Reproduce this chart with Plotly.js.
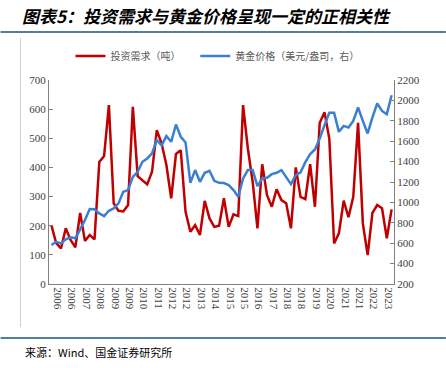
<!DOCTYPE html>
<html>
<head>
<meta charset="utf-8">
<script src="https://cdn.plot.ly/plotly-3.0.1.min.js"></script>
<style>html,body{margin:0;padding:0;background:#fff;}#chart{width:446px;height:368px;}</style>
</head>
<body>
<div id="chart"></div>
<script>
// Quarterly categories 2006Q1 .. 2023Q4
const years = [2006,2007,2008,2009,2010,2011,2012,2013,2014,2015,2016,2017,2018,2019,2020,2021,2022,2023];
const quarters = [];
years.forEach(y => { for (let q = 1; q <= 4; q++) quarters.push(y + 'Q' + q); });

// Investment demand (tonnes), left axis
const investDemand = [
  202,140,122,191, 151,126,244,148, 168,153,419,439, 614,277,251,249,
  271,608,370,357, 342,385,528,482, 408,294,446,459, 248,179,202,168,
  285,225,196,200, 294,196,239,233, 614,465,351,191, 411,305,265,325,
  288,277,191,400, 299,291,411,265, 553,589,499,139, 174,286,229,299,
  553,208,99,244, 271,260,157,256
];

// Gold price (USD/oz), right axis
const goldPrice = [
  582,614,598,638, 657,648,736,827, 935,932,892,866, 918,941,990,1104,
  1121,1251,1300,1398, 1431,1480,1610,1560, 1650,1594,1764,1643, 1588,1192,1317,1202,
  1290,1310,1212,1192, 1190,1170,1121,1055, 1235,1317,1317,1160, 1235,1241,1277,1290,
  1317,1245,1179,1268, 1295,1395,1473,1519, 1627,1757,1878,1878, 1692,1750,1735,1799,
  1930,1799,1676,1833, 1970,1897,1865,2051
];

// X tick labels (one per group of 3 quarters)
const tickLabels = ['2006','2006','2007','2008','2009','2009','2010','2011','2012','2012','2013','2014',
                    '2015','2015','2016','2017','2018','2018','2019','2020','2021','2021','2022','2023'];

const xIdx = quarters.map((_, i) => i);
const labelPos = tickLabels.map((_, k) => 3 * k + 1.3);
const tickPos = [];
for (let k = 1; k < tickLabels.length; k++) tickPos.push(3 * k - 0.5);

const axisFont = {family: '"Liberation Serif", "Times New Roman", serif', size: 11, color: '#404040'};
const cjk = '"Noto Sans CJK SC", sans-serif';

const traces = [
  {x: xIdx, y: investDemand, type: 'scatter', mode: 'lines', name: '投资需求（吨）',
   line: {color: '#C00000', width: 2.5}, xaxis: 'x', yaxis: 'y', legend: 'legend'},
  {x: xIdx, y: goldPrice, type: 'scatter', mode: 'lines', name: '黄金价格（美元/盎司，右）',
   line: {color: '#3A7FD2', width: 2.5}, xaxis: 'x', yaxis: 'y2', legend: 'legend2'}
];

const W = 345.5, H = 204; // plot size
const px = v => (v - 48.5) / W;
const py = v => (284 - v) / H;

const legendFont = {family: cjk, size: 10, color: '#595959'};

const layout = {
  width: 446, height: 368,
  margin: {l: 48.5, r: 52, t: 80, b: 84},
  paper_bgcolor: '#ffffff', plot_bgcolor: '#ffffff',
  showlegend: true,
  title: {text: '<b><i>图表5：投资需求与黄金价格呈现一定的正相关性</i></b>',
          font: {family: cjk, size: 17, color: '#000'},
          xref: 'container', yref: 'container', x: 22/446, xanchor: 'left', y: 1 - 17.5/368, yanchor: 'middle'},
  legend: {orientation: 'h', x: px(70), xanchor: 'left', y: py(56), yanchor: 'middle',
           font: legendFont, bgcolor: 'rgba(0,0,0,0)'},
  legend2: {orientation: 'h', x: px(195), xanchor: 'left', y: py(56), yanchor: 'middle',
           font: legendFont, bgcolor: 'rgba(0,0,0,0)'},
  xaxis: {type: 'linear', range: [-0.5, 71.5], tickmode: 'array', tickvals: labelPos, ticktext: tickLabels,
          tickangle: 90, ticks: '', showgrid: false, zeroline: false,
          showline: true, linecolor: '#808080', linewidth: 1, tickfont: axisFont, ticklen: 0},
  xaxis2: {type: 'linear', range: [-0.5, 71.5], overlaying: 'x', anchor: 'y', side: 'bottom',
           tickmode: 'array', tickvals: tickPos, ticks: 'inside', ticklen: 3, tickcolor: '#808080',
           showticklabels: false, showgrid: false, zeroline: false, showline: false},
  yaxis: {range: [0, 700], dtick: 100, tick0: 0, ticks: 'inside', ticklen: 4, tickcolor: '#808080',
          showgrid: false, zeroline: false, showline: true, linecolor: '#808080', linewidth: 1,
          tickfont: axisFont},
  yaxis2: {range: [200, 2200], dtick: 200, tick0: 200, overlaying: 'y', side: 'right', anchor: 'x',
           ticks: 'inside', ticklen: 4, tickcolor: '#808080',
           showgrid: false, zeroline: false, showline: true, linecolor: '#808080', linewidth: 1,
           tickfont: axisFont},
  shapes: [
    {type: 'line', xref: 'paper', yref: 'paper', x0: px(0), x1: px(446), y0: py(32), y1: py(32),
     line: {color: '#4F7FA3', width: 2}},
    {type: 'line', xref: 'paper', yref: 'paper', x0: px(0), x1: px(446), y0: py(338), y1: py(338),
     line: {color: '#4F7FA3', width: 2}},
    {type: 'line', xref: 'paper', yref: 'paper', x0: px(20), x1: px(20), y0: py(38), y1: py(327),
     line: {color: '#D0D0D0', width: 1}}
  ],
  annotations: [
    {text: '来源：Wind、国金证券研究所', xref: 'paper', yref: 'paper', x: px(22), y: py(352),
     xanchor: 'left', yanchor: 'middle', showarrow: false,
     font: {family: cjk, size: 11, color: '#000'}}
  ]
};

Plotly.newPlot('chart', traces, layout, {displayModeBar: false, staticPlot: true});
</script>
</body>
</html>
